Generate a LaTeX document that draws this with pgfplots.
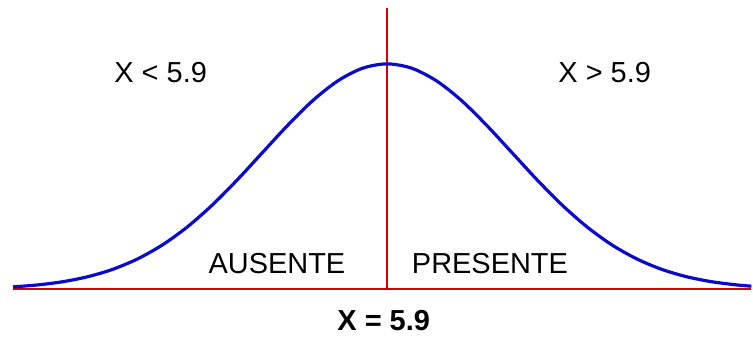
\documentclass[border=0pt]{standalone}
\usepackage{pgfplots}
\pgfplotsset{compat=1.18}
\usepackage{fontspec}
\setmainfont{Liberation Sans}
\definecolor{curveblue}{RGB}{10,10,205}
\begin{document}
\begin{tikzpicture}
\begin{axis}[
  scale only axis,
  width=753pt, height=337pt,
  xmin=0, xmax=753, ymin=-47, ymax=290,
  axis lines=none, ticks=none,
  clip=false,
]
\path (rel axis cs:0,0) rectangle (rel axis cs:1,1);
% baseline and divider
\addplot+[red!85!black, line width=2pt, mark=none, solid] coordinates {(13,0) (753,0)};
\addplot+[red!85!black, line width=1.8pt, mark=none, solid] coordinates {(388,0) (388,282)};
% normal curve (pixel heights above baseline)
\addplot+[curveblue, line width=3.2pt, smooth, mark=none, solid] coordinates {
(13,2.5) (38,4.5) (63,7.7) (88,12.7) (113,20.1) (138,30.6) (163,44.7)
(188,62.8) (213,84.8) (238,110.0) (263,137.1) (288,164.1) (313,188.8)
(338,208.6) (363,221.5) (388,226) (413,221.5) (438,208.6) (463,188.8)
(488,164.1) (513,137.1) (538,110.0) (563,84.8) (588,62.8) (613,44.7)
(638,30.6) (663,20.1) (688,12.7) (713,7.7) (738,4.5) (753,3.2)
};
\node[anchor=base, font=\fontsize{29}{34}\selectfont] at (axis cs:161,207) {X < 5.9};
\node[anchor=base, font=\fontsize{29}{34}\selectfont] at (axis cs:606,207) {X > 5.9};
\node[anchor=base, font=\fontsize{29}{34}\selectfont] at (axis cs:277.5,16) {AUSENTE};
\node[anchor=base, font=\fontsize{29}{34}\selectfont] at (axis cs:491,16) {PRESENTE};
\node[anchor=base, font=\fontsize{29}{34}\selectfont\bfseries] at (axis cs:384.5,-41) {X = 5.9};
\end{axis}
\end{tikzpicture}
\end{document}
